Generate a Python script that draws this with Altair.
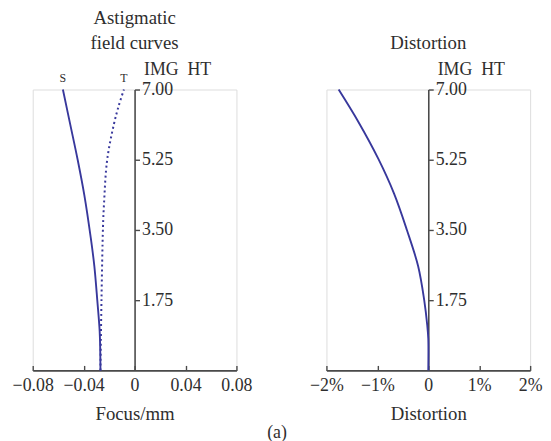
import altair as alt
import pandas as pd

# ---- data ----
S_height = [0.0, 0.96, 1.75, 2.6, 3.3, 4.375, 5.25, 6.125, 7.0]
S_focus = [-0.0268, -0.0274, -0.0293, -0.0316, -0.0344, -0.0395, -0.0447, -0.0505, -0.0563]

T_height = [0.0, 1.75, 3.58, 4.16, 5.23, 6.13, 6.6, 7.0]
T_focus = [-0.0268, -0.0260, -0.0248, -0.0240, -0.0216, -0.0163, -0.0124, -0.0084]

D_height = [0.0, 0.79, 1.12, 1.75, 2.6, 3.5, 4.4, 5.27, 6.21, 7.0]
D_pct = [0.0, 0.0, -0.02, -0.08, -0.20, -0.42, -0.67, -0.98, -1.38, -1.76]

focus_ticks = [-0.08, -0.04, 0, 0.04, 0.08]
dist_ticks = [-2, -1, 0, 1, 2]
ht_ticks = [1.75, 3.5, 5.25, 7.0]
curve_labels = ["S", "T"]

FONT = "Liberation Serif"
LINE = "#38389c"
AX = "#4a4a4a"
TXT = "#2e2e2e"
W, H = 206, 284

dfS = pd.DataFrame({"h": S_height, "v": S_focus})
dfT = pd.DataFrame({"h": T_height, "v": T_focus})
dfD = pd.DataFrame({"h": D_height, "v": D_pct})
dfLab = pd.DataFrame({"h": [S_height[-1], T_height[-1]], "v": [S_focus[-1], T_focus[-1]],
                      "lab": curve_labels, "dx": [-8, 3]})


def yenc():
    return alt.Y(
        "h:Q",
        scale=alt.Scale(domain=[0, 7], nice=False, zero=False),
        axis=alt.Axis(
            orient="right", offset=-W / 2, values=ht_ticks, format=".2f",
            tickSize=5, domainColor=AX, tickColor=AX, domainWidth=1.6, tickWidth=1.4,
            labelFont=FONT, labelFontSize=18, labelColor=TXT, labelPadding=2,
            grid=False, title="IMG\u2002HT", titleAngle=0, titleX=43, titleY=-20,
            titleAlign="center", titleBaseline="middle", titleFont=FONT,
            titleFontSize=18, titleFontWeight="normal", titleColor=TXT,
        ),
    )


def xbottom(domain, ticks, expr, title):
    return alt.X(
        "v:Q",
        scale=alt.Scale(domain=domain, nice=False, zero=False),
        axis=alt.Axis(
            orient="bottom", values=ticks, ticks=False, domain=True,
            domainColor=AX, domainWidth=1.6, labelExpr=expr, labelFlush=False,
            labelFont=FONT, labelFontSize=18, labelColor=TXT, labelPadding=6,
            grid=False, title=title, titleFont=FONT, titleFontSize=19,
            titleFontWeight="normal", titleColor=TXT, titlePadding=11,
        ),
    )


def xtop(domain, ticks):
    return alt.X(
        "v:Q",
        scale=alt.Scale(domain=domain, nice=False, zero=False),
        axis=alt.Axis(
            orient="top", offset=-H, values=ticks, labels=False, domain=False,
            ticks=True, tickSize=5, tickColor=AX, tickWidth=1.4, grid=False,
        ),
        title=None,
    )


def xnone(domain):
    return alt.X("v:Q", scale=alt.Scale(domain=domain, nice=False, zero=False), axis=None)


fdom = [-0.08, 0.08]
fexpr = "datum.value == 0 ? '0' : (datum.value < 0 ? '\u2212' : '') + format(abs(datum.value), '.2f')"
s_line = alt.Chart(dfS).mark_line(color=LINE, strokeWidth=1.9, interpolate="catmull-rom").encode(
    x=xbottom(fdom, focus_ticks, fexpr, "Focus/mm"), y=yenc(), order="h:Q")
t_line = alt.Chart(dfT).mark_line(color=LINE, strokeWidth=2, strokeDash=[2, 3],
                                  interpolate="catmull-rom").encode(
    x=xtop(fdom, focus_ticks), y=yenc(), order="h:Q")
labels = alt.Chart(dfLab).mark_text(font=FONT, fontSize=12, color=TXT, dy=-12).encode(
    x=xnone(fdom), y=yenc(), text="lab:N", xOffset=alt.XOffset("dx:Q", scale=None))

left = alt.layer(s_line, t_line, labels).resolve_axis(x="independent").properties(
    width=W, height=H,
    title=alt.TitleParams(["Astigmatic", "field curves"], anchor="middle", frame="group",
                          font=FONT, fontSize=19, fontWeight="normal", color=TXT,
                          lineHeight=25, offset=8),
)

ddom = [-2, 2]
dexpr = "datum.value == 0 ? '0' : (datum.value < 0 ? '\u2212' : '') + abs(datum.value) + '%'"
d_line = alt.Chart(dfD).mark_line(color=LINE, strokeWidth=1.9, interpolate="catmull-rom").encode(
    x=xbottom(ddom, dist_ticks, dexpr, "Distortion"), y=yenc(), order="h:Q")
d_ticks = alt.Chart(dfD).mark_point(opacity=0).encode(x=xtop(ddom, dist_ticks), y=yenc())

right = alt.layer(d_line, d_ticks).resolve_axis(x="independent").properties(
    width=W, height=H,
    title=alt.TitleParams("Distortion", anchor="middle", frame="group",
                          font=FONT, fontSize=19, fontWeight="normal", color=TXT, offset=8),
)

chart = alt.hconcat(left, right, spacing=91, bounds="flush").properties(
    title=alt.TitleParams("(a)", orient="bottom", anchor="middle", font=FONT, fontSize=18,
                          fontWeight="normal", color=TXT, offset=0),
    padding={"left": 3, "top": -2, "right": 0, "bottom": 0},
).configure_view(stroke=None).configure(background="white")

chart.save("out.html", embed_options={"renderer": "svg", "actions": False})
